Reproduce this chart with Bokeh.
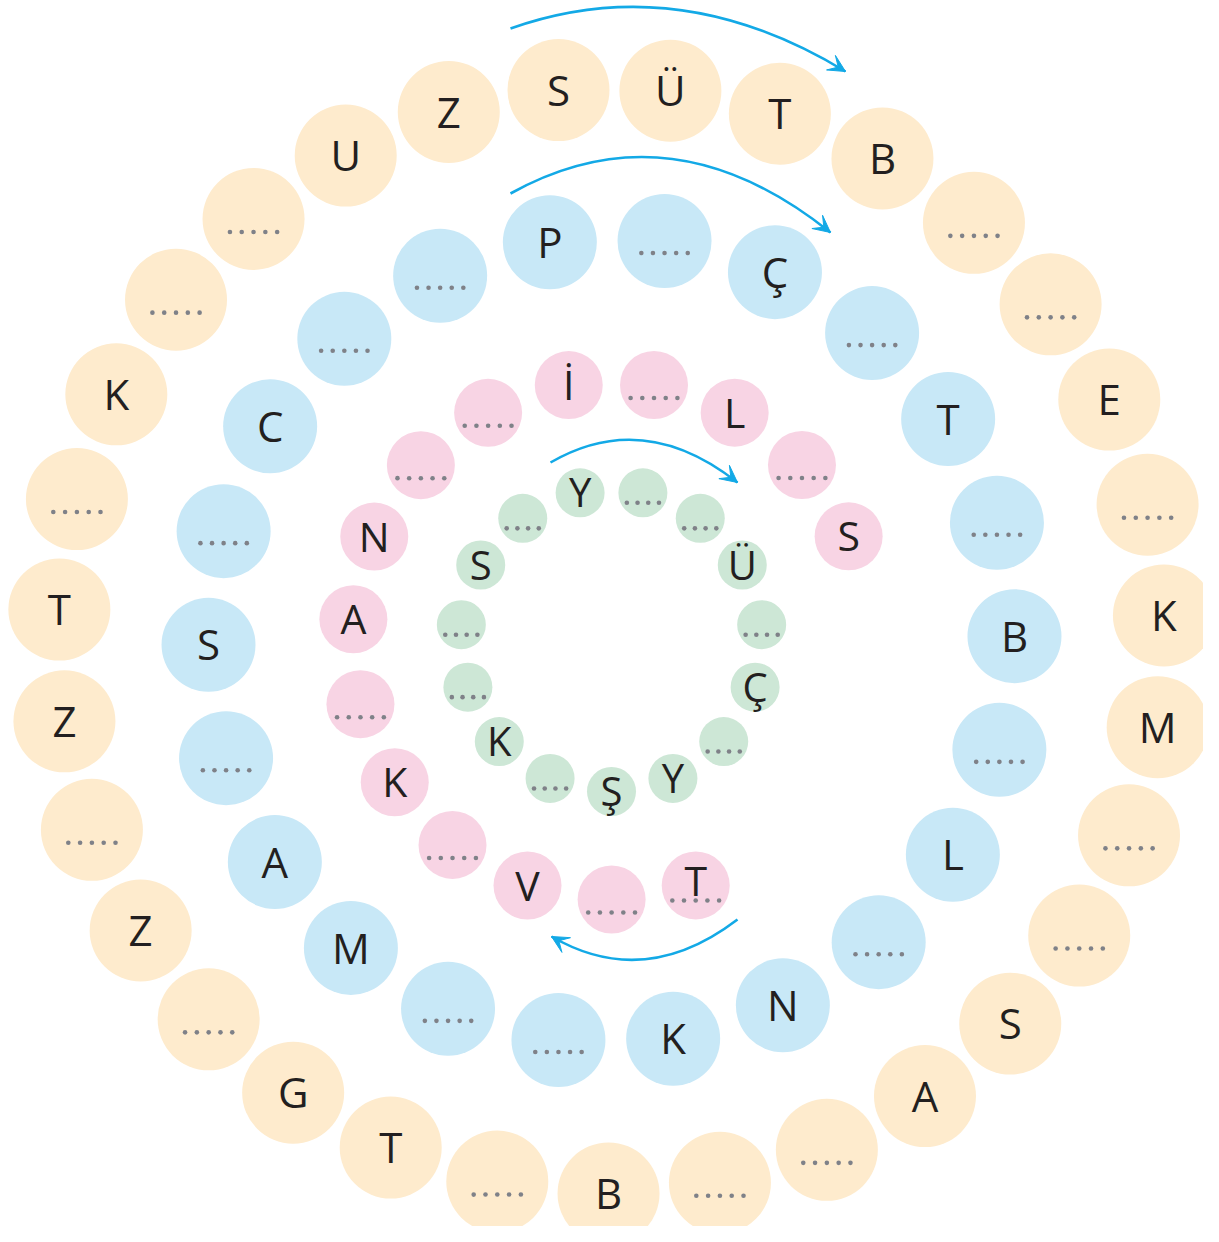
import numpy as np
from bokeh.plotting import figure
from bokeh.models import Range1d, Arrow, VeeHead
from bokeh.embed import file_html
from bokeh.resources import INLINE
from bokeh.core.properties import value

# ---- data: letters of each ring, clockwise from the top ("" = blank with dots, None = no circle)
outer_labels = ["S", "Ü", "T", "B", "", "", "E", "", "K", "M", "", "", "S", "A", "", "",
                "B", "", "T", "G", "", "Z", "", "Z", "T", "", "K", "", "", "U", "Z"]
blue_labels = ["P", "", "Ç", "", "T", "", "B", "", "L", "", "N", "K", "", "", "M", "A",
               "", "S", "", "C", "", ""]
pink_labels = ["İ", "", "L", "", "S", None, None, None, None, "T", "", "V", "", "K", "",
               "A", "N", "", ""]
pink_dotted_letters = [9]  # the "T" circle also carries dots
green_labels = ["Y", "", "", "Ü", "", "Ç", "", "Y", "Ş", "", "K", "", "", "S", ""]

# ---- layout
CX, CY = 611, 640
TEXT = "#231f20"
DOT = "#7f8188"
ARROW = "#13a9e6"
FONT = "Open Sans"

rings = [
    # labels, ring radius, circle radius, start angle, fill, n dots, dot offset, dot gap, font px, extra dotted
    (outer_labels, 553, 51, -5.5, "#feebcd", 5, 13, 11.8, 42, []),
    (blue_labels, 403, 47, -8.8, "#c8e8f7", 5, 12, 11.6, 42, []),
    (pink_labels, 259, 34, -9.5, "#f8d4e4", 5, 13, 11.7, 41, pink_dotted_letters),
    (green_labels, 151, 24.5, -12.0, "#cde7d6", 4, 10, 10.7, 40, []),
]

p = figure(width=1203, height=1226, x_range=Range1d(0, 1203), y_range=Range1d(1226, 0),
           output_backend="svg", toolbar_location=None, min_border=0)
p.axis.visible = False
p.grid.visible = False
p.outline_line_color = None
p.background_fill_color = "white"
p.border_fill_color = "white"

for labels, R, r, start, fill, nd, doff, dgap, fs, extra in rings:
    n = len(labels)
    step = 360.0 / n
    xs, ys, tx, ty, tt, dx, dy = [], [], [], [], [], [], []
    for i, lab in enumerate(labels):
        if lab is None:
            continue
        a = np.radians(start + i * step)
        x = CX + R * np.sin(a)
        y = CY - R * np.cos(a)
        xs.append(x)
        ys.append(y)
        if lab != "":
            tx.append(x)
            ty.append(y + fs * 0.36 - 16 * fs / 42 - (5 if i in extra else 0))
            tt.append(lab)
        if lab == "" or i in extra:
            off = doff + (2 if i in extra else 0)
            for k in range(nd):
                dx.append(x + (k - (nd - 1) / 2) * dgap)
                dy.append(y + off)
    p.circle(xs, ys, radius=r, fill_color=fill, line_color=None)
    if dx:
        p.scatter(dx, dy, size=4.6, marker="circle", fill_color=DOT, line_color=None)
    if tt:
        p.text(tx, ty, text=tt, text_align="center", text_baseline="alphabetic",
               text_color=TEXT, text_font=value(FONT), text_font_size=f"{fs}px")

# ---- curved arrows (quadratic curves, head at the end)
arr_x0 = [510, 510, 550, 737]
arr_y0 = [28, 193, 462, 919]
arr_x1 = [845, 830, 737, 551]
arr_y1 = [71, 232, 482, 936]
arr_cx = [677, 670, 643, 644]
arr_cy = [-31, 104, 408, 990]

p.quadratic(x0=arr_x0, y0=arr_y0, x1=arr_x1, y1=arr_y1, cx=arr_cx, cy=arr_cy,
            line_color=ARROW, line_width=2.6)
for x1, y1, cx, cy in zip(arr_x1, arr_y1, arr_cx, arr_cy):
    t = np.array([x1 - cx, y1 - cy], dtype=float)
    t /= np.linalg.norm(t)
    p.add_layout(Arrow(x_start=x1 - 6 * t[0], y_start=y1 - 6 * t[1], x_end=x1, y_end=y1,
                       line_color=ARROW, line_width=2.6,
                       end=VeeHead(size=17, fill_color=ARROW, line_color=ARROW, line_width=1)))

open("out.html", "w").write(file_html(p, INLINE))
